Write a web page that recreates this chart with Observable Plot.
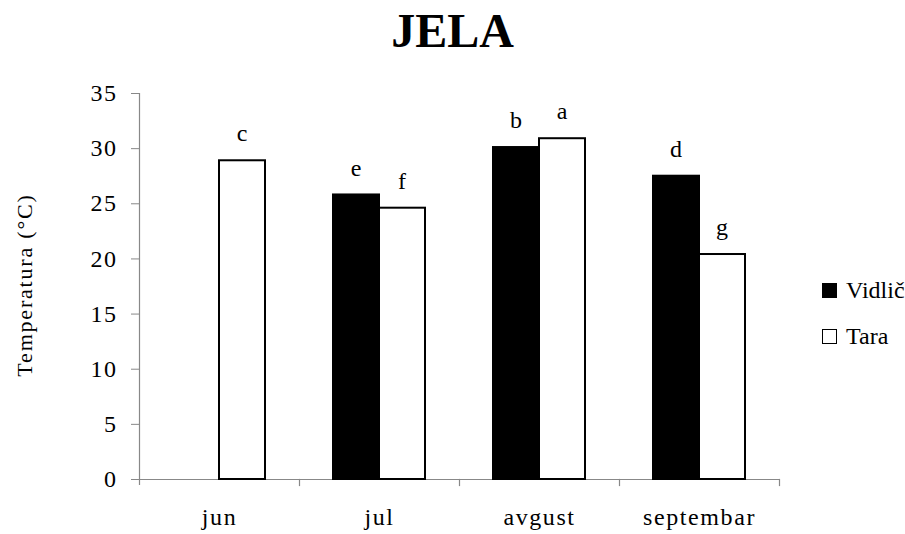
<!DOCTYPE html>
<html>
<head>
<meta charset="utf-8">
<script src="https://cdn.jsdelivr.net/npm/d3@7"></script>
<script src="https://cdn.jsdelivr.net/npm/@observablehq/plot@0.6"></script>
<style>
  body { margin: 0; background: #fff; }
  #wrap { position: relative; width: 905px; height: 534px; font-family: "Liberation Serif", "Times New Roman", serif; color: #000; overflow: hidden; }
  #title { position: absolute; left: 0; top: 7px; width: 905px; text-align: center; font-size: 48px; font-weight: bold; line-height: 1; }
  #ylabel { position: absolute; left: 25px; top: 285px; width: 260px; margin-left: -130px; margin-top: -12px; line-height: 24px; text-align: center; font-size: 22px; letter-spacing: 1.8px; transform: rotate(-90deg); }
  .sw { position: absolute; left: 822px; width: 13px; height: 13px; border: 1px solid #000; }
  .lt { position: absolute; left: 846px; font-family: "Liberation Serif", serif; font-size: 24px; line-height: 24px; white-space: nowrap; }
  #chart { position: absolute; left: 0; top: 0; }
  g[aria-label="fx-axis tick label"] text { letter-spacing: 1.6px; }
  g[aria-label="y-axis tick label"] text { letter-spacing: 1.5px; }
  g[aria-label="text"] text { letter-spacing: 1px; }
</style>
</head>
<body>
<div id="wrap">
  <div id="chart"></div>
  <div id="title">JELA</div>
  <div id="ylabel">Temperatura (°C)</div>
  <div class="sw" style="top:283px;background:#000;"></div>
  <div class="lt" style="top:278px;">Vidlič</div>
  <div class="sw" style="top:329px;background:#fff;"></div>
  <div class="lt" style="top:324px;">Tara</div>
</div>
<script>
const months = ["jun", "jul", "avgust", "septembar"];
const series = ["Vidlič", "Tara"];
const vidlic = [null, 25.8, 30.1, 27.5];
const tara = [28.9, 24.6, 30.9, 20.4];
const vidlicLetters = ["", "e", "b", "d"];
const taraLetters = ["c", "f", "a", "g"];
const yTicks = [0, 5, 10, 15, 20, 25, 30, 35];
const seriesColors = ["#000000", "#ffffff"];

const rows = [];
months.forEach((m, i) => {
  if (vidlic[i] != null) rows.push({month: m, series: series[0], value: vidlic[i], letter: vidlicLetters[i]});
  if (tara[i] != null) rows.push({month: m, series: series[1], value: tara[i], letter: taraLetters[i]});
});

const chart = Plot.plot({
  width: 905,
  height: 534,
  marginLeft: 137,
  marginRight: 125,
  marginTop: 93,
  marginBottom: 55,
  style: {fontFamily: "'Liberation Serif', 'Times New Roman', serif", fontSize: "24px", color: "#000", background: "transparent", overflow: "visible"},
  fx: {domain: months, padding: 0, axis: null, label: null},
  x: {domain: series, paddingInner: 0, paddingOuter: 0.71, axis: null, label: null},
  y: {domain: [0, 35], axis: null, label: null},
  color: {domain: series, range: seriesColors},
  marks: [
    Plot.ruleY([0], {stroke: "#888", strokeWidth: 1.2}),
    Plot.frame({anchor: "left", facetAnchor: "left", stroke: "#888", strokeWidth: 1.2, insetBottom: -5}),
    Plot.frame({anchor: "right", stroke: "#888", strokeWidth: 1.2, insetTop: 386, insetBottom: -6}),
    Plot.axisY({ticks: yTicks, tickSize: 8, tickPadding: 14, stroke: "#888", fill: "#000", fontSize: 24, label: null, tickFormat: d => String(d)}),
    Plot.axisFx({anchor: "bottom", tickSize: 0, tickPadding: 28, fontSize: 24, label: null, fill: "#000"}),
    Plot.barY(rows, {fx: "month", x: "series", y: "value", fill: "series", stroke: "#000", strokeWidth: 2}),
    Plot.text(rows.filter(d => d.letter), {fx: "month", x: "series", y: "value", text: "letter", dy: -27, fontSize: 24, fill: "#000"})
  ]
});
document.getElementById("chart").appendChild(chart);
</script>
</body>
</html>
